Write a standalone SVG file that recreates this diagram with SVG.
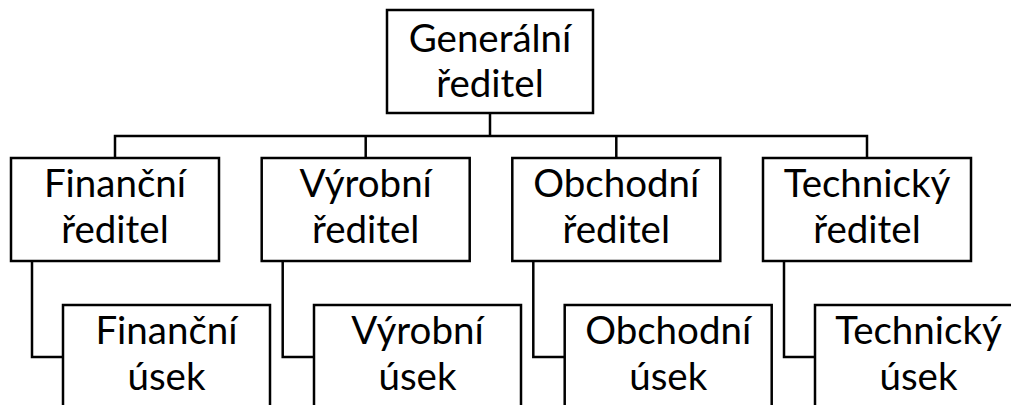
<svg xmlns="http://www.w3.org/2000/svg" width="1011" height="405" viewBox="0 0 1011 405">
<style>
.box{fill:#fff;stroke:#000;stroke-width:2.5}
.ln{fill:none;stroke:#000;stroke-width:2.5}
.t{font-family:Lato,"Open Sans","Liberation Sans",sans-serif;font-size:38.5px;fill:#000;text-anchor:middle}
</style>
<rect width="1011" height="405" fill="#fff"/>
<g id="connectors">
<path class="ln" d="M490,113 V136 M115,158 V136 H867 V158 M365.7,136 V158 M616.3,136 V158"/>
<path class="ln" d="M32,261 V357 H63 M282.7,261 V357 H314 M533.3,261 V357 H564.7 M784,261 V357 H815"/>
</g>
<g id="generalni">
<rect class="box" x="387" y="10" width="206" height="103"/>
<text class="t" x="490" y="52">Generální</text>
<text class="t" x="490" y="97">ředitel</text>
</g>
<g id="financni-reditel">
<rect class="box" x="11" y="158" width="208" height="103"/>
<text class="t" x="115" y="197">Finanční</text>
<text class="t" x="115" y="243">ředitel</text>
</g>
<g id="vyrobni-reditel">
<rect class="box" x="261.7" y="158" width="208" height="103"/>
<text class="t" x="365.7" y="197">Výrobní</text>
<text class="t" x="365.7" y="243">ředitel</text>
</g>
<g id="obchodni-reditel">
<rect class="box" x="512.3" y="158" width="208" height="103"/>
<text class="t" x="616.3" y="197">Obchodní</text>
<text class="t" x="616.3" y="243">ředitel</text>
</g>
<g id="technicky-reditel">
<rect class="box" x="763" y="158" width="208" height="103"/>
<text class="t" x="867" y="197">Technický</text>
<text class="t" x="867" y="243">ředitel</text>
</g>
<g id="financni-usek">
<rect class="box" x="63" y="305" width="207" height="120"/>
<text class="t" x="166.5" y="344">Finanční</text>
<text class="t" x="166.5" y="390">úsek</text>
</g>
<g id="vyrobni-usek">
<rect class="box" x="314" y="305" width="207" height="120"/>
<text class="t" x="417.5" y="344">Výrobní</text>
<text class="t" x="417.5" y="390">úsek</text>
</g>
<g id="obchodni-usek">
<rect class="box" x="564.7" y="305" width="207" height="120"/>
<text class="t" x="668.2" y="344">Obchodní</text>
<text class="t" x="668.2" y="390">úsek</text>
</g>
<g id="technicky-usek">
<rect class="box" x="815" y="305" width="207" height="120"/>
<text class="t" x="918.5" y="344">Technický</text>
<text class="t" x="918.5" y="390">úsek</text>
</g>
</svg>
